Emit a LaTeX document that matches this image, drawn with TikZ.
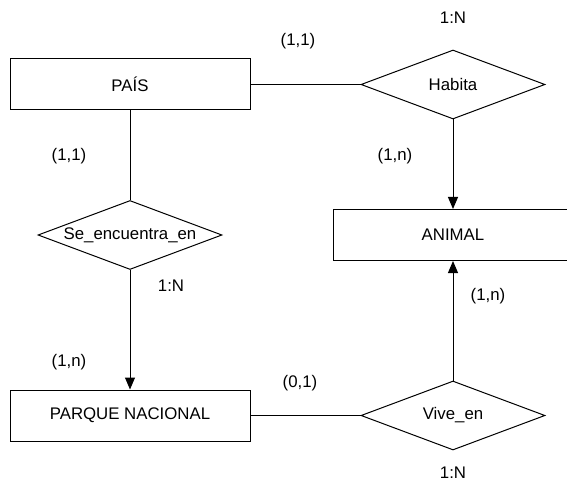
\documentclass[tikz,border=0pt]{standalone}
\usepackage{fontspec}
\setmainfont{Liberation Sans}
\usetikzlibrary{shapes.geometric,arrows.meta}
\begin{document}
\begin{tikzpicture}[x=1pt,y=-1pt,
  txt/.style={font=\fontsize{16.8}{19}\selectfont},
  entity/.style={draw,line width=1pt,minimum width=240pt,minimum height=51pt,inner sep=0pt,txt},
  rel/.style={draw,diamond,shape aspect=2.6,line width=1pt,minimum width=184pt,minimum height=69pt,inner sep=0pt,txt},
  lbl/.style={inner sep=0pt,txt},
  conn/.style={line width=1pt},
  arr/.style={conn,-{Triangle[length=12pt,width=10pt]}}]
\useasboundingbox (0,0) rectangle (567,486);
\node[entity] (pais) at (130,84.5) {PAÍS};
\node[entity] (parque) at (130,415.5) {PARQUE NACIONAL};
\node[entity] (animal) at (453,235) {ANIMAL};
\node[rel] (habita) at (453,84.5) {Habita};
\node[rel] (se) at (130,235) {Se\_encuentra\_en};
\node[rel] (vive) at (453,415.5) {Vive\_en};
\draw[conn] (pais.east) -- (habita.west);
\draw[conn] (pais.south) -- (se.north);
\draw[arr] (habita.south) -- (animal.north);
\draw[arr] (se.south) -- (parque.north);
\draw[conn] (parque.east) -- (vive.west);
\draw[arr] (vive.north) -- (animal.south);
\node[lbl] (l1) at (453,18) {1:N};
\node[lbl] (l2) at (298,41) {(1,1)};
\node[lbl] (l3) at (69,156) {(1,1)};
\node[lbl] (l4) at (395,156) {(1,n)};
\node[lbl] (l5) at (171,286) {1:N};
\node[lbl] (l6) at (488,296) {(1,n)};
\node[lbl] (l7) at (69,362) {(1,n)};
\node[lbl] (l8) at (300,383) {(0,1)};
\node[lbl] (l9) at (453,473) {1:N};
\end{tikzpicture}
\end{document}
